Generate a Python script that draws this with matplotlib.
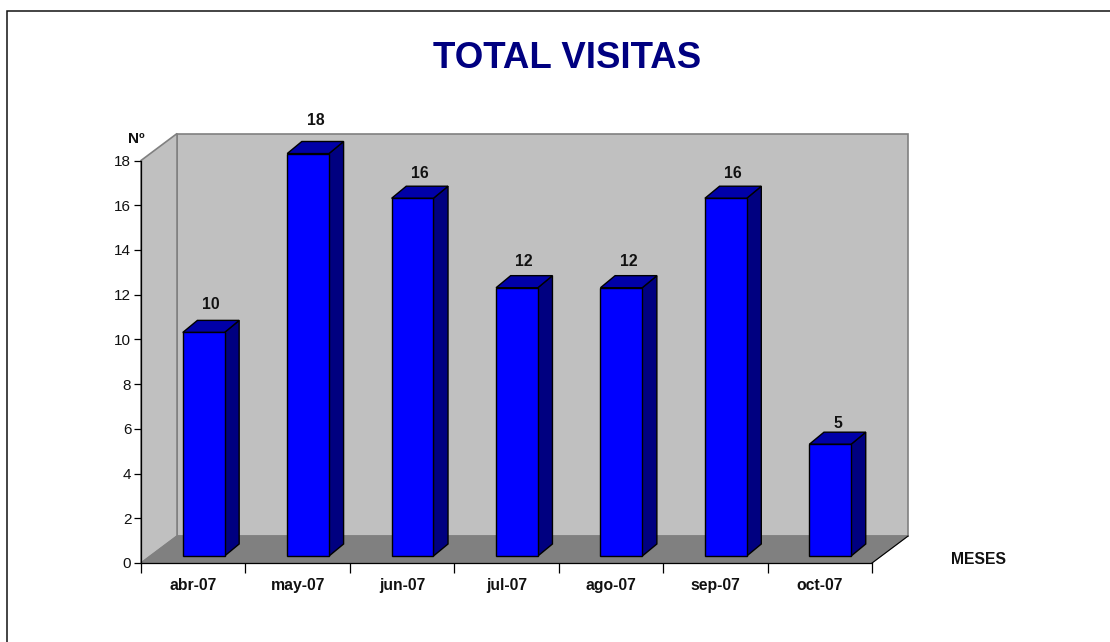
import matplotlib
matplotlib.use('Agg')
import matplotlib.pyplot as plt
from matplotlib.patches import Polygon, Rectangle

plt.rcParams['font.family'] = ['Liberation Sans', 'DejaVu Sans']

months = ['abr-07', 'may-07', 'jun-07', 'jul-07', 'ago-07', 'sep-07', 'oct-07']
visits = [10, 18, 16, 12, 12, 16, 5]
y_ticks = [0, 2, 4, 6, 8, 10, 12, 14, 16, 18]
# hand placed labels in the original, gap above each bar
label_lift = [0.72, 0.95, 0.55, 0.64, 0.64, 0.55, 0.37]

W, H = 1110, 642

# depth of the fake 3d box, in data units
depth_x = 0.345
depth_y = 1.206
bar_w = 0.4
bar_dx = 0.10
bar_dy = 0.31
bar_depth_x = 0.14
bar_depth_y = 0.54


def add_poly(ax, pts, color, edge, lw=1.0, z=1):
  ax.add_patch(Polygon(pts, closed=True, facecolor=color, edgecolor=edge, linewidth=lw,
                       zorder=z, clip_on=False, joinstyle='miter'))


fig = plt.figure(figsize=(W / 100, H / 100), dpi=100, facecolor='white')
# frame runs off the right and bottom of the image
fig.add_artist(Rectangle((6.5 / W, -20 / H), (W + 20) / W, (H + 20 - 10.5) / H, transform=fig.transFigure,
                         facecolor='none', edgecolor='#111111', linewidth=1.1))

ax = fig.add_axes([141 / W, 1 - 563 / H, 731 / W, 402.5 / H], facecolor='none')
ax.set_xlim(0, len(months))
ax.set_ylim(0, 18)

# walls and floor
n = len(months)
wall = '#c0c0c0'
add_poly(ax, [(depth_x, depth_y), (n + depth_x, depth_y), (n + depth_x, 18 + depth_y), (depth_x, 18 + depth_y)],
         wall, '#808080', 1.2, 1)
add_poly(ax, [(0, 0), (depth_x, depth_y), (depth_x, 18 + depth_y), (0, 18)], wall, '#808080', 1.2, 1)
add_poly(ax, [(0, 0), (n, 0), (n + depth_x, depth_y), (depth_x, depth_y)], '#808080', '#808080', 0.8, 2)
ax.plot([n, n + depth_x], [0, depth_y], color='black', lw=0.8, clip_on=False, zorder=3)

# bars
for i, v in enumerate(visits):
  x0 = i + (1 - bar_w) / 2 + bar_dx
  x1 = x0 + bar_w
  y0 = bar_dy
  y1 = v + bar_dy
  add_poly(ax, [(x1, y0), (x1 + bar_depth_x, y0 + bar_depth_y), (x1 + bar_depth_x, y1 + bar_depth_y), (x1, y1)],
           '#000080', 'black', 1.0, 4)
  add_poly(ax, [(x0, y1), (x1, y1), (x1 + bar_depth_x, y1 + bar_depth_y), (x0 + bar_depth_x, y1 + bar_depth_y)],
           '#0000a8', 'black', 1.0, 4)
  add_poly(ax, [(x0, y0), (x1, y0), (x1, y1), (x0, y1)], '#0000ff', 'black', 1.0, 5)
  ax.text(i + 0.5 + bar_dx + bar_depth_x / 2, y1 + bar_depth_y + label_lift[i], str(v), ha='center', va='center',
          fontsize=11.3, fontweight='bold', color='#111111', zorder=6)

for side in ['top', 'right']:
  ax.spines[side].set_visible(False)
for side in ['left', 'bottom']:
  ax.spines[side].set_linewidth(0.9)
  ax.spines[side].set_zorder(3)

ax.set_yticks(y_ticks)
ax.tick_params(axis='y', length=5, width=0.9, labelsize=11, pad=2, labelcolor='#111111')
ax.set_xticks(range(n + 1))
ax.set_xticklabels([])
ax.tick_params(axis='x', length=7, width=0.9)
for i, m in enumerate(months):
  ax.annotate(m, (i + 0.5, 0), xytext=(0, -22.5), textcoords='offset pixels', ha='center', va='center',
              fontsize=11.3, fontweight='bold', color='#111111', annotation_clip=False)

fig.text(567 / W, 1 - 58.5 / H, 'TOTAL VISITAS', ha='center', va='center', fontsize=26.4, fontweight='bold',
         color='#000080')
fig.text(136.5 / W, 1 - 139 / H, 'Nº', ha='center', va='center', fontsize=11, fontweight='bold', color='#111111')
fig.text(979 / W, 1 - 559 / H, 'MESES', ha='center', va='center', fontsize=11.3, fontweight='bold', color='#111111')

fig.savefig('out.png', dpi=100, facecolor='white')
